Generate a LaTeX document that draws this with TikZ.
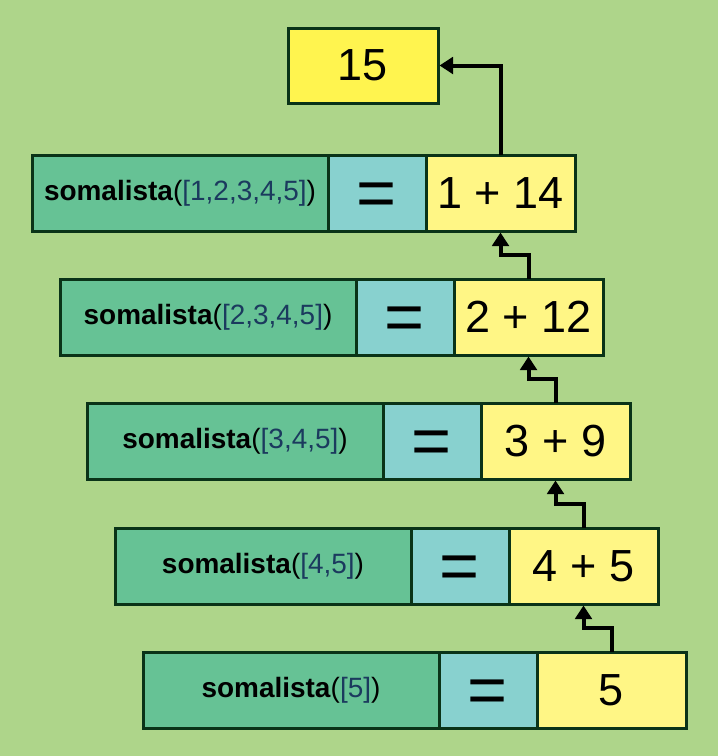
\documentclass[tikz,border=0pt]{standalone}
\usepackage{fontspec}
\setmainfont{Liberation Sans}
\usetikzlibrary{positioning,arrows.meta}

\definecolor{bgleaf}{HTML}{AED58A}
\definecolor{callcell}{HTML}{66C295}
\definecolor{eqcell}{HTML}{88D1CF}
\definecolor{sumcell}{HTML}{FFF685}
\definecolor{resultcell}{HTML}{FFF44F}
\definecolor{cellline}{HTML}{0A3318}
\definecolor{listblue}{HTML}{1B3A5E}

\tikzset{
  cell/.style={draw=cellline, line width=0.06cm, inner sep=0pt, outer sep=0pt, minimum height=1.52cm},
  callbox/.style={cell, fill=callcell, minimum width=5.92cm, font=\fontsize{15.9pt}{18pt}\selectfont},
  eqbox/.style={cell, fill=eqcell, minimum width=1.96cm, text height=27pt, text depth=0pt, font=\fontsize{39pt}{44pt}\selectfont},
  sumbox/.style={cell, fill=sumcell, minimum width=2.98cm, font=\fontsize{25.6pt}{30pt}\selectfont},
  resultbox/.style={sumbox, fill=resultcell, minimum height=1.5cm, minimum width=3cm},
  upstep/.style={line width=0.08cm, -{Triangle[width=0.33cm,length=0.27cm]}, shorten >=0.03cm}
}
\newcommand{\somacall}[1]{\textbf{somalista}(\textcolor{listblue}{[#1]})}

\begin{document}
\begin{tikzpicture}
  \filldraw[fill=bgleaf, draw=none] (0cm,0cm) rectangle (14.36cm,-15.12cm);

  % final result
  \node[resultbox] (result) at (7.26cm,-1.31cm) {15};

  % one row per call
  \node[callbox] (c1) at (3.60cm,-3.86cm) {\somacall{1,2,3,4,5}};
  \node[eqbox, right=0pt of c1] (e1) {=};
  \node[sumbox, right=0pt of e1] (s1) {1 + 14};

  \node[callbox] (c2) at (4.16cm,-6.34cm) {\somacall{2,3,4,5}};
  \node[eqbox, right=0pt of c2] (e2) {=};
  \node[sumbox, right=0pt of e2] (s2) {2 + 12};

  \node[callbox] (c3) at (4.70cm,-8.82cm) {\somacall{3,4,5}};
  \node[eqbox, right=0pt of c3] (e3) {=};
  \node[sumbox, right=0pt of e3] (s3) {3 + 9};

  \node[callbox] (c4) at (5.26cm,-11.32cm) {\somacall{4,5}};
  \node[eqbox, right=0pt of c4] (e4) {=};
  \node[sumbox, right=0pt of e4] (s4) {4 + 5};

  \node[callbox] (c5) at (5.82cm,-13.80cm) {\somacall{5}};
  \node[eqbox, right=0pt of c5] (e5) {=};
  \node[sumbox, right=0pt of e5] (s5) {5};

  % values going back up
  \draw[upstep] (s5.north) -- ++(0,0.48cm) -| (s4.south);
  \draw[upstep] (s4.north) -- ++(0,0.48cm) -| (s3.south);
  \draw[upstep] (s3.north) -- ++(0,0.48cm) -| (s2.south);
  \draw[upstep] (s2.north) -- ++(0,0.48cm) -| (s1.south);
  \draw[upstep] (s1.north) |- (result.east);
\end{tikzpicture}
\end{document}
